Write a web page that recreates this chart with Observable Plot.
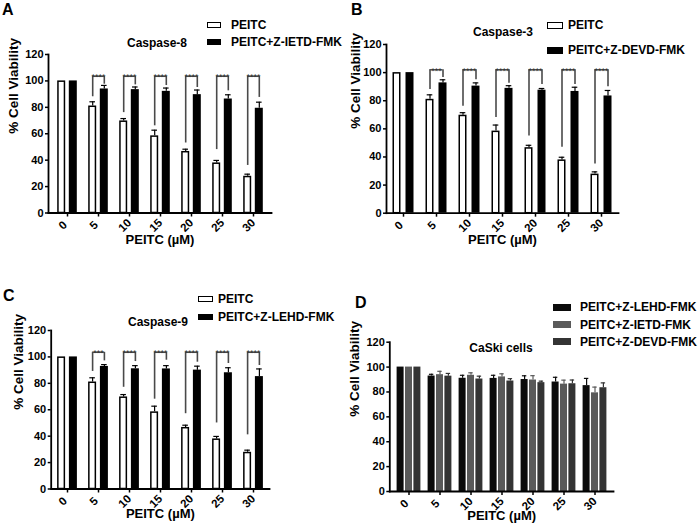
<!DOCTYPE html>
<html><head><meta charset="utf-8">
<script src="https://cdn.jsdelivr.net/npm/d3@7"></script>
<script src="https://cdn.jsdelivr.net/npm/@observablehq/plot@0.6"></script>
<style>
body{margin:0;background:#fff;font-family:"Liberation Sans",Arial,sans-serif;}
#root{position:relative;width:699px;height:529px;overflow:hidden;background:#fff;}
.abs{position:absolute;white-space:nowrap;font-weight:bold;color:#000;}
.pn{position:absolute;}
</style></head><body><div id="root"></div>
<script>
// ---------- data ----------
const doses = [0, 5, 10, 15, 20, 25, 30];
const yTicks = [0, 20, 40, 60, 80, 100, 120];
const peitc   = [100, 81.0, 69.7, 58.4, 46.6, 37.9, 27.8];
const peitcSd = [0, 3.2, 1.8, 4.3, 1.7, 1.9, 1.6];
const ietd    = [100, 93.9, 93.4, 92.1, 89.6, 86.3, 79.3];   // PEITC+Z-IETD-FMK
const ietdSd  = [0, 2.7, 2.0, 2.5, 3.5, 3.2, 4.6];
const devd    = [100, 92.7, 90.4, 88.8, 87.5, 86.6, 83.4];   // PEITC+Z-DEVD-FMK
const devdSd  = [0, 2.2, 2.3, 1.9, 1.2, 3.0, 3.9];
const lehd    = [100, 92.8, 91.0, 90.9, 90.0, 88.0, 85.1];   // PEITC+Z-LEHD-FMK
const lehdSd  = [0, 1.4, 2.4, 2.5, 3.0, 3.8, 5.8];
const starsA = ["", "****", "****", "****", "****", "****", "****"];
const starsB = ["", "***", "****", "****", "****", "****", "****"];
const starsC = ["", "***", "****", "****", "****", "****", "****"];
const legLowA = [null, 88, 76, 66, 53, 48, 36];
const legHighA = [null, 97.5, 97, 96.5, 95, 92.5, 87.5];
const legLowB = [null, 88, 76, 68, 55, 47, 35];
const legHighB = [null, 96.5, 95, 92.5, 91.5, 91.5, 90];
const legLowC = [null, 89, 77, 68, 57, 50, 41];
const legHighC = [null, 97, 96.5, 97.5, 96, 95, 93.5];
const bracketTop = {A: 103.5, B: 102, C: 103.5};
const xLabel = "PEITC (µM)";
const yLabel = "% Cell Viability";

const FONT = '"Liberation Sans", Arial, sans-serif';
const root = document.getElementById("root");

function rows(means, sds) { return doses.map((d, i) => ({dose: d, m: means[i], s: sds[i]})); }

function commonMarks(c) {
  return [
    Plot.axisY({ticks: yTicks, tickSize: 3, tickPadding: 2, fontSize: 11, fontWeight: "bold", label: null, strokeWidth: 1.5}),
    Plot.axisX({tickSize: 4, tickFormat: () => "", label: null, strokeWidth: 1.5}),
    Plot.frame({anchor: "left", strokeWidth: 1.8}),
    Plot.frame({anchor: "bottom", strokeWidth: 1.8}),
    Plot.text(doses, {x: d => d, text: d => String(d), frameAnchor: "bottom", dy: c.tickDy, dx: -2, rotate: -45, fontSize: 11.5, fontWeight: "bold"}),
    Plot.text([xLabel], {text: d => d, frameAnchor: "bottom", dy: c.xlabDy, fontSize: 13, fontWeight: "bold"}),
    Plot.text([yLabel], {text: d => d, frameAnchor: "left", dx: c.ylabDx, rotate: -90, fontSize: 13.5, fontWeight: "bold"})
  ];
}

function errMarks(data, dx, color, inset) {
  const e = data.filter(d => d.s > 0);
  return [
    Plot.ruleX(e, {x: "dose", y1: "m", y2: d => d.m + d.s, dx, stroke: color, strokeWidth: 1.2}),
    Plot.tickY(e, {x: "dose", y: d => d.m + d.s, dx, inset, stroke: color, strokeWidth: 1.2})
  ];
}

function place(svg, c) {
  const div = document.createElement("div");
  div.className = "pn";
  div.style.left = c.left + "px"; div.style.top = c.top + "px";
  div.appendChild(svg);
  root.appendChild(div);
}

function pairPanel(c) {
  const step = (c.x1 - c.x0) / doses.length;
  const pad = 1 - c.bw / step;
  const w = rows(peitc, peitcSd);
  const b = rows(c.mean, c.sd);
  const legs = [];
  doses.forEach((d, i) => {
    if (!c.stars[i]) return;
    legs.push({dose: d, side: -1, y1: c.lo[i], y2: c.btop});
    legs.push({dose: d, side: 1, y1: c.hi[i], y2: c.btop});
  });
  const tops = doses.map((d, i) => ({dose: d, star: c.stars[i], top: c.btop})).filter(d => d.star);
  const half = c.off - c.bw / 2;
  const svg = Plot.plot({
    width: c.w, height: c.h,
    marginLeft: c.x0 - c.left, marginRight: c.left + c.w - c.x1,
    marginTop: c.yTop - c.top, marginBottom: c.top + c.h - c.yBot,
    x: {type: "band", domain: doses, paddingInner: pad, paddingOuter: pad / 2},
    y: {domain: [0, 120]},
    style: {fontFamily: FONT, overflow: "visible", background: "transparent", color: "black"},
    marks: [
      Plot.barY(w, {x: "dose", y: "m", dx: -c.off, fill: "white", stroke: "black", strokeWidth: 1.5, insetLeft: 0.75, insetRight: 0.75, insetTop: 0.75}),
      Plot.barY(b, {x: "dose", y: "m", dx: c.off, fill: "black"}),
      ...errMarks(w, -c.off, "black", 1.2),
      ...errMarks(b, c.off, "black", 1.2),
      Plot.ruleX(legs.filter(d => d.side < 0), {x: "dose", y1: "y1", y2: "y2", dx: -c.off, stroke: "#4a4a4a", strokeWidth: 1.6}),
      Plot.ruleX(legs.filter(d => d.side > 0), {x: "dose", y1: "y1", y2: "y2", dx: c.off, stroke: "#4a4a4a", strokeWidth: 1.6}),
      Plot.tickY(tops, {x: "dose", y: "top", insetLeft: -half, insetRight: -half, stroke: "#4a4a4a", strokeWidth: 1.4}),
      Plot.text(tops, {x: "dose", y: "top", text: "star", fontSize: 9, fontWeight: "normal", fill: "#333", dy: 1}),
      ...commonMarks(c)
    ]
  });
  place(svg, c);
}

function triPanel(c) {
  const step = (c.x1 - c.x0) / doses.length;
  const pad = 1 - c.bw / step;
  const series = [
    {d: rows(lehd, lehdSd), color: "#0b0b0b", dx: -c.off},
    {d: rows(ietd, ietdSd), color: "#5a5a5a", dx: 0},
    {d: rows(devd, devdSd), color: "#343434", dx: c.off}
  ];
  const svg = Plot.plot({
    width: c.w, height: c.h,
    marginLeft: c.x0 - c.left, marginRight: c.left + c.w - c.x1,
    marginTop: c.yTop - c.top, marginBottom: c.top + c.h - c.yBot,
    x: {type: "band", domain: doses, paddingInner: pad, paddingOuter: pad / 2},
    y: {domain: [0, 120]},
    style: {fontFamily: FONT, overflow: "visible", background: "transparent", color: "black"},
    marks: [
      ...series.map(s => Plot.barY(s.d, {x: "dose", y: "m", dx: s.dx, fill: s.color})),
      ...series.flatMap(s => errMarks(s.d, s.dx, s.color, 1.3)),
      ...commonMarks(c)
    ]
  });
  place(svg, c);
}

pairPanel({left: 0, top: 0, w: 290, h: 260, x0: 48, x1: 271, yTop: 54, yBot: 212.5, bw: 8, off: 5.8,
  mean: ietd, sd: ietdSd, stars: starsA, lo: legLowA, hi: legHighA, btop: bracketTop.A,
  tickDy: 15, xlabDy: 31, ylabDx: -35});
pairPanel({left: 350, top: 0, w: 300, h: 260, x0: 386, x1: 618, yTop: 44, yBot: 212.7, bw: 8.3, off: 6.5,
  mean: devd, sd: devdSd, stars: starsB, lo: legLowB, hi: legHighB, btop: bracketTop.B,
  tickDy: 15, xlabDy: 31, ylabDx: -31});
pairPanel({left: 0, top: 265, w: 290, h: 264, x0: 50.7, x1: 269, yTop: 330, yBot: 488.5, bw: 8, off: 5.9,
  mean: lehd, sd: lehdSd, stars: starsC, lo: legLowC, hi: legHighC, btop: bracketTop.C,
  tickDy: 15, xlabDy: 28.5, ylabDx: -33});
triPanel({left: 350, top: 265, w: 290, h: 264, x0: 389.3, x1: 613, yTop: 341.7, yBot: 491, bw: 7.5, off: 8.4,
  tickDy: 15, xlabDy: 28.5, ylabDx: -35});

// ---------- text + legends (HTML) ----------
function label(txt, x, y, size, anchor) {
  const el = document.createElement("div");
  el.className = "abs";
  el.textContent = txt;
  el.style.fontSize = size + "px";
  el.style.lineHeight = size + "px";
  el.style.left = x + "px"; el.style.top = y + "px";
  el.style.transform = anchor === "center" ? "translate(-50%,-50%)" : "translate(0,-50%)";
  root.appendChild(el);
}
function swatch(x, y, w, h, fill, stroke) {
  const el = document.createElement("div");
  el.style.position = "absolute";
  el.style.left = x + "px"; el.style.top = (y - h / 2) + "px";
  el.style.width = w + "px"; el.style.height = h + "px";
  el.style.background = fill;
  el.style.boxSizing = "border-box";
  if (stroke) el.style.border = "1.3px solid " + stroke;
  root.appendChild(el);
}
const legendA = ["PEITC", "PEITC+Z-IETD-FMK"];
const legendB = ["PEITC", "PEITC+Z-DEVD-FMK"];
const legendC = ["PEITC", "PEITC+Z-LEHD-FMK"];
const legendD = ["PEITC+Z-LEHD-FMK", "PEITC+Z-IETD-FMK", "PEITC+Z-DEVD-FMK"];

label("A", 2, 10, 16); label("B", 351, 10, 16); label("C", 3, 296, 16); label("D", 355, 303, 16);
label("Caspase-8", 157, 42.5, 12, "center");
label("Caspase-3", 503, 31.5, 12, "center");
label("Caspase-9", 158, 321.5, 12, "center");
label("CaSki cells", 501, 347.5, 12, "center");

function pairLegend(names, sx, tx, y1, y2, sw, sh) {
  swatch(sx, y1, sw, sh, "white", "black"); label(names[0], tx, y1, 12);
  swatch(sx, y2, sw, sh, "black"); label(names[1], tx, y2, 12);
}
pairLegend(legendA, 207, 231, 25, 42.3, 14, 6);
pairLegend(legendB, 547, 568, 25.3, 50, 16, 7);
pairLegend(legendC, 198, 218, 298.5, 316.5, 15, 6);
const dCols = ["#0b0b0b", "#5a5a5a", "#343434"];
[307, 324.5, 341.5].forEach((y, i) => { swatch(553, y, 18, 7, dCols[i]); label(legendD[i], 580, y, 12); });
</script></body></html>
